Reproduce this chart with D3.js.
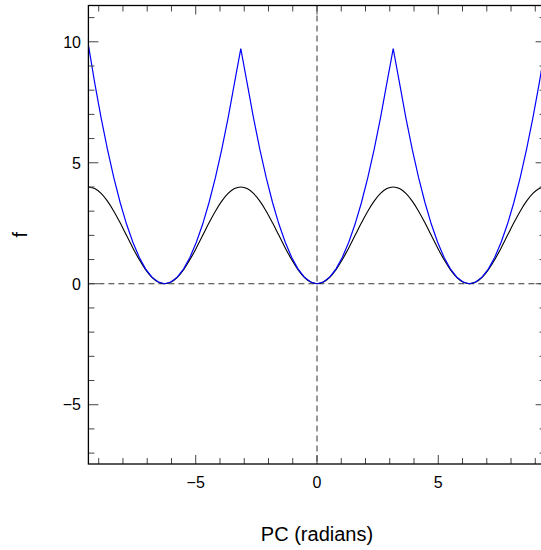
<!DOCTYPE html>
<html><head><meta charset="utf-8">
<script src="https://cdn.jsdelivr.net/npm/d3@7"></script>
<style>body{margin:0;background:#fff}svg{display:block}text{font-family:"Liberation Sans",Arial,Helvetica,sans-serif;fill:#000}</style>
</head><body>
<script>
// Phase samples (radians)
const phase = [-9.425,-9.163,-8.901,-8.639,-8.378,-8.116,-7.854,-7.592,-7.330,-7.069,-6.807,-6.545,-6.283,
 -6.021,-5.760,-5.498,-5.236,-4.974,-4.712,-4.451,-4.189,-3.927,-3.665,-3.403,-3.142,
 -2.880,-2.618,-2.356,-2.094,-1.833,-1.571,-1.309,-1.047,-0.785,-0.524,-0.262,0,
 0.262,0.524,0.785,1.047,1.309,1.571,1.833,2.094,2.356,2.618,2.880,3.142,
 3.403,3.665,3.927,4.189,4.451,4.712,4.974,5.236,5.498,5.760,6.021,6.283,
 6.545,6.807,7.069,7.330,7.592,7.854,8.116,8.378,8.639,8.901,9.163,9.425];
// Black curve values
const fBlack = [4.0,3.932,3.732,3.414,3.0,2.518,2.0,1.482,1.0,0.586,0.268,0.068,0,
 0.068,0.268,0.586,1.0,1.482,2.0,2.518,3.0,3.414,3.732,3.932,4.0,
 3.932,3.732,3.414,3.0,2.518,2.0,1.482,1.0,0.586,0.268,0.068,0,
 0.068,0.268,0.586,1.0,1.482,2.0,2.518,3.0,3.414,3.732,3.932,4.0,
 3.932,3.732,3.414,3.0,2.518,2.0,1.482,1.0,0.586,0.268,0.068,0,
 0.068,0.268,0.586,1.0,1.482,2.0,2.518,3.0,3.414,3.732,3.932,4.0];
// Blue curve values
const fBlue = [9.87,8.293,6.854,5.552,4.386,3.358,2.467,1.713,1.097,0.617,0.274,0.069,0,
 0.069,0.274,0.617,1.097,1.713,2.467,3.358,4.386,5.552,6.854,8.293,9.72,
 8.293,6.854,5.552,4.386,3.358,2.467,1.713,1.097,0.617,0.274,0.069,0,
 0.069,0.274,0.617,1.097,1.713,2.467,3.358,4.386,5.552,6.854,8.293,9.72,
 8.293,6.854,5.552,4.386,3.358,2.467,1.713,1.097,0.617,0.274,0.069,0,
 0.069,0.274,0.617,1.097,1.713,2.467,3.358,4.386,5.552,6.854,8.293,9.87];
const xMinor = [-9,-8,-7,-6,-5,-4,-3,-2,-1,0,1,2,3,4,5,6,7,8,9];
const xMajor = [-5,0,5];
const yMinor = [-7,-6,-5,-4,-3,-2,-1,0,1,2,3,4,5,6,7,8,9,10,11];
const yMajor = [-5,0,5,10];
const xLabel = "PC (radians)", yLabel = "f";

const W=541,H=550;
const L=88.4,R=545.6,T=5.5,B=464;
const x=d3.scaleLinear().domain([-9.425,9.425]).range([L,R]);
const y=d3.scaleLinear().domain([-7.45,11.5]).range([B,T]);
const svg=d3.select("body").append("svg").attr("width",W).attr("height",H);
svg.append("defs").append("clipPath").attr("id","c").append("rect")
 .attr("x",L).attr("y",T).attr("width",R-L).attr("height",B-T);

const fmt=d=>d<0?"\u2212"+Math.abs(d):String(d);
// dashed zero lines
svg.append("line").attr("x1",L).attr("x2",R).attr("y1",y(0)).attr("y2",y(0))
 .attr("stroke","#333").attr("stroke-dasharray","6,4").attr("stroke-width",1);
svg.append("line").attr("x1",x(0)).attr("x2",x(0)).attr("y1",T).attr("y2",B)
 .attr("stroke","#333").attr("stroke-dasharray","6,4").attr("stroke-width",1);

const g=svg.append("g").attr("clip-path","url(#c)");
const pts=(v)=>phase.map((p,i)=>[p,v[i]]);
g.append("path").datum(pts(fBlack)).attr("fill","none").attr("stroke","#000").attr("stroke-width",1.1)
 .attr("d",d3.line().x(d=>x(d[0])).y(d=>y(d[1])).curve(d3.curveMonotoneX));
g.append("path").datum(pts(fBlue)).attr("fill","none").attr("stroke","#0000ff").attr("stroke-width",1.2)
 .attr("d",d3.line().x(d=>x(d[0])).y(d=>y(d[1])));

// axes with inward ticks
const ax=svg.append("g");
const tick=(x1,y1,x2,y2)=>ax.append("line").attr("x1",x1).attr("y1",y1).attr("x2",x2).attr("y2",y2)
 .attr("stroke","#444").attr("stroke-width",1);
xMinor.forEach(v=>{const len=xMajor.includes(v)?9:6;const px=x(v);
 tick(px,B,px,B-len);tick(px,T,px,T+len);});
yMinor.forEach(v=>{const len=yMajor.includes(v)?10:6;const py=y(v);
 tick(L,py,L+len,py);tick(R,py,R-len,py);});
ax.append("rect").attr("x",L).attr("y",T).attr("width",R-L).attr("height",B-T)
 .attr("fill","none").attr("stroke","#000").attr("stroke-width",1.3);

xMajor.forEach(v=>svg.append("text").attr("x",x(v)).attr("y",487.5).attr("text-anchor","middle")
 .attr("font-size",16).text(fmt(v)));
yMajor.forEach(v=>svg.append("text").attr("x",81).attr("y",y(v)).attr("dy","0.36em").attr("text-anchor","end")
 .attr("font-size",16).text(fmt(v)));
svg.append("text").attr("x",317).attr("y",540.7).attr("text-anchor","middle").attr("font-size",20).text(xLabel);
svg.append("text").attr("transform",`translate(27,${(T+B)/2}) rotate(-90)`).attr("text-anchor","middle")
 .attr("font-size",20).text(yLabel);
</script>
</body></html>
